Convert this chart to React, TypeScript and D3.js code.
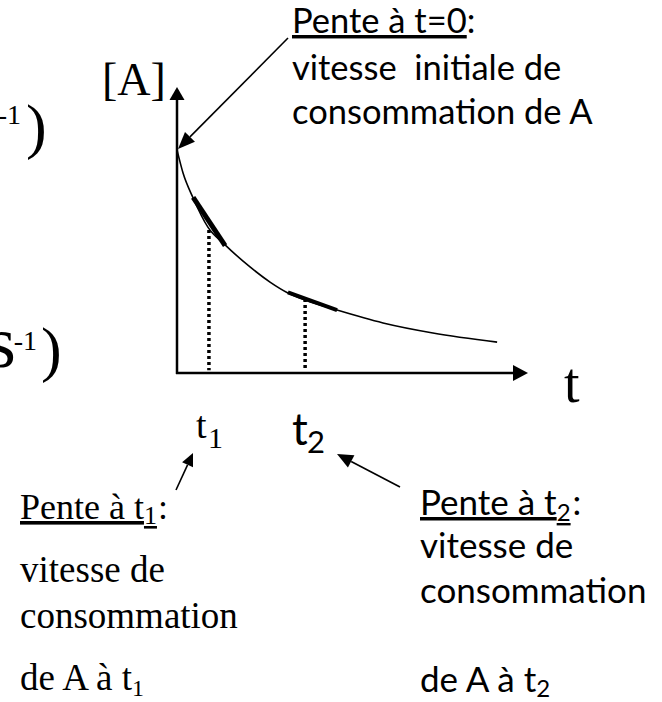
import * as d3 from 'd3';

// curve of [A] against t (arbitrary units)
const curveT = [0, 0.17, 0.46, 0.88, 1.37, 2.08, 2.65, 3.16, 3.65, 4.56, 5.87, 7.29, 9.12];
const curveA = [7.8, 7.0, 6.12, 5.1, 4.48, 3.71, 3.18, 2.8, 2.55, 2.2, 1.75, 1.4, 1.08];

// tangent segments at t1 and t2
const tangent1T = [0.46, 1.37];
const tangent1A = [6.14, 4.45];
const tangent2T = [3.16, 4.56];
const tangent2A = [2.82, 2.2];

// dotted drop lines at t1 and t2
const markT = [0.91, 3.65];
const markTopA = [5.0, 2.59];
const markBottomA = 0.1;

const axisMaxT = 10;
const axisMaxA = 10;

const topNote = ['Pente à t=0', 'vitesse  initiale de', 'consommation de A'];
const leftNote = ['Pente à t', 'vitesse de', 'consommation', 'de A à t'];
const rightNote = ['Pente à t', 'vitesse de', 'consommation', 'de A à t'];

const W = 662;
const H = 702;
const serif = '"Liberation Serif", "Times New Roman", serif';
const sans = 'Lato, "Noto Sans", sans-serif';

function arrowHead(x1: number, y1: number, x2: number, y2: number, len: number, half: number) {
  const dx = x2 - x1;
  const dy = y2 - y1;
  const d = Math.hypot(dx, dy);
  const ux = dx / d;
  const uy = dy / d;
  const bx = x2 - ux * len;
  const by = y2 - uy * len;
  return {
    base: [bx, by],
    points: `${x2},${y2} ${bx - uy * half},${by + ux * half} ${bx + uy * half},${by - ux * half}`,
  };
}

function Arrow({ x1, y1, x2, y2, len, half, width = 1.6 }: any) {
  const h = arrowHead(x1, y1, x2, y2, len, half);
  return (
    <g>
      <line x1={x1} y1={y1} x2={h.base[0]} y2={h.base[1]} stroke="#000" strokeWidth={width} />
      <polygon points={h.points} fill="#000" />
    </g>
  );
}

export default function App() {
  const x = d3.scaleLinear().domain([0, axisMaxT]).range([177, 528]);
  const y = d3.scaleLinear().domain([0, axisMaxA]).range([373, 87]);

  const line = d3.line<[number, number]>()
    .x((d) => x(d[0]))
    .y((d) => y(d[1]));

  const curvePath = d3.line<[number, number]>()
    .x((d) => x(d[0]))
    .y((d) => y(d[1]))
    .curve(d3.curveMonotoneX)(curveT.map((t, i) => [t, curveA[i]]));

  const tan1 = line(tangent1T.map((t, i) => [t, tangent1A[i]]));
  const tan2 = line(tangent2T.map((t, i) => [t, tangent2A[i]]));

  return (
    <svg width={W} height={H} style={{ position: 'absolute', left: 0, top: 0, background: '#fff' }}>
      {/* formula ends, cut by the left edge */}
      <text x={21} y={124} fontFamily={serif} fontSize={28} textAnchor="end">-1</text>
      <text x={26} y={147} fontFamily={serif} fontSize={62}>)</text>
      <text x={-13} y={367} fontFamily={serif} fontSize={74}>s</text>
      <text x={37} y={350} fontFamily={serif} fontSize={28} textAnchor="end">-1</text>
      <text x={41} y={370} fontFamily={serif} fontSize={62}>)</text>

      {/* axes */}
      <Arrow x1={x(0)} y1={y(0) + 1} x2={x(0)} y2={y(axisMaxA)} len={13} half={7.5} width={2.5} />
      <Arrow x1={x(0) - 1} y1={y(0)} x2={x(axisMaxT)} y2={y(0)} len={15} half={8} width={2.5} />
      <text x={102} y={95} fontFamily={serif} fontSize={46}>[A]</text>
      <text x={564} y={402} fontFamily={serif} fontSize={56}>t</text>

      {/* dotted drop lines */}
      {markT.map((t, i) => (
        <line
          key={i}
          x1={x(t)} x2={x(t)}
          y1={y(markTopA[i])} y2={y(markBottomA)}
          stroke="#000"
          strokeWidth={3.5}
          strokeDasharray="3,3"
        />
      ))}

      {/* curve and tangents */}
      <path d={curvePath ?? ''} fill="none" stroke="#000" strokeWidth={1.6} />
      <path d={tan1 ?? ''} fill="none" stroke="#000" strokeWidth={5} />
      <path d={tan2 ?? ''} fill="none" stroke="#000" strokeWidth={4} />

      {/* top note */}
      <Arrow x1={288} y1={38} x2={x(0) + 1} y2={y(curveA[0]) - 1} len={17} half={7} />
      <text x={292} y={33} fontFamily={sans} fontSize={34.5}>
        <tspan style={{ textDecoration: 'underline' }}>{topNote[0]}</tspan>:
      </text>
      <text x={292} y={80} fontFamily={sans} fontSize={34.5} style={{ whiteSpace: 'pre' }}>{topNote[1]}</text>
      <text x={292} y={124} fontFamily={sans} fontSize={34.5}>{topNote[2]}</text>

      {/* t1, t2 labels */}
      <text x={196} y={438} fontFamily={serif} fontSize={38}>t</text>
      <text x={208} y={448} fontFamily={serif} fontSize={30}>1</text>
      <text x={292} y={445} fontFamily={sans} fontSize={44}>t</text>
      <text x={307} y={453} fontFamily={sans} fontSize={31}>2</text>

      <Arrow x1={176} y1={490} x2={193} y2={453} len={13} half={6} />
      <Arrow x1={400} y1={487} x2={337} y2={454} len={16} half={7} />

      {/* left note */}
      <text x={20} y={519} fontFamily={serif} fontSize={36}>
        <tspan style={{ textDecoration: 'underline' }}>
          {leftNote[0]}<tspan fontSize={26} dy={5}>1</tspan>
        </tspan>
        <tspan dx={1} dy={-5}>:</tspan>
      </text>
      <text x={20} y={582} fontFamily={serif} fontSize={37}>{leftNote[1]}</text>
      <text x={20} y={628} fontFamily={serif} fontSize={37}>{leftNote[2]}</text>
      <text x={20} y={690} fontFamily={serif} fontSize={37}>
        {leftNote[3]}<tspan fontSize={24} dy={6}>1</tspan>
      </text>

      {/* right note */}
      <text x={420} y={515} fontFamily={sans} fontSize={35}>
        <tspan style={{ textDecoration: 'underline' }}>
          {rightNote[0]}<tspan fontSize={24} dy={6}>2</tspan>
        </tspan>
        <tspan dx={2} dy={-6}>:</tspan>
      </text>
      <text x={420} y={558} fontFamily={sans} fontSize={35}>{rightNote[1]}</text>
      <text x={420} y={603} fontFamily={sans} fontSize={35}>{rightNote[2]}</text>
      <text x={420} y={692} fontFamily={sans} fontSize={35}>
        {rightNote[3]}<tspan fontSize={24} dy={5}>2</tspan>
      </text>
    </svg>
  );
}
